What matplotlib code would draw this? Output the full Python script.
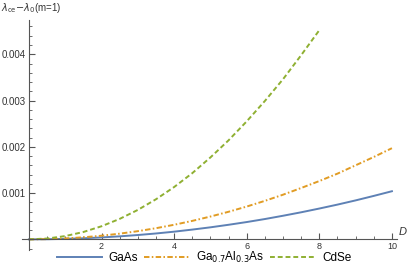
import matplotlib.pyplot as plt
from matplotlib.ticker import MultipleLocator, FixedLocator

plt.rcParams['font.family'] = ['Liberation Sans', 'DejaVu Sans']

# values
D = [0, 0.5, 1, 1.5, 2, 2.5, 3, 3.5, 4, 4.5, 5, 5.5, 6, 6.5, 7, 7.5, 8,
     8.5, 9, 9.5, 10]
gaas = [0, 0.0000026, 0.0000104, 0.0000234, 0.0000416, 0.000065, 0.0000936,
        0.000127, 0.000166, 0.000211, 0.00026, 0.000315, 0.000374, 0.000439,
        0.00051, 0.000585, 0.000666, 0.000751, 0.000842, 0.000939, 0.00104]
gaal = [0, 0.0000049, 0.0000197, 0.0000443, 0.0000788, 0.000123, 0.000177,
        0.000241, 0.000315, 0.000399, 0.000493, 0.000596, 0.000709, 0.000832,
        0.000965, 0.00111, 0.00126, 0.00142, 0.0016, 0.00178, 0.00197]
D_cdse = D[:17]
cdse = [0, 0.0000177, 0.0000707, 0.000159, 0.000283, 0.000442, 0.000636,
        0.000866, 0.00113, 0.00143, 0.00177, 0.00214, 0.00255, 0.00299,
        0.00346, 0.00398, 0.00452]

labels = ['GaAs', r'Ga$_{0.7}$Al$_{0.3}$As', 'CdSe']
colors = ['#5E81B5', '#E19C24', '#8FB032']

fig = plt.figure(figsize=(4.15, 2.64), dpi=100)
ax = fig.add_axes([22 / 415, 14 / 264, 375 / 415, 230 / 264])

l1, = ax.plot(D, gaas, color=colors[0], lw=1.4)
l2, = ax.plot(D, gaal, color=colors[1], lw=1.4, dashes=(2.8, 1.2, 0.8, 1.2))
l3, = ax.plot(D_cdse, cdse, color=colors[2], lw=1.4, dashes=(2.5, 1.5))

ax.set_xlim(-0.19, 10.14)
ax.set_ylim(-0.00023, 0.00474)

axcol = '#555555'
for s in ['top', 'right']:
    ax.spines[s].set_visible(False)
ax.spines['left'].set_position(('data', 0))
ax.spines['bottom'].set_position(('data', 0))
for s in ['left', 'bottom']:
    ax.spines[s].set_color(axcol)
    ax.spines[s].set_linewidth(0.8)

ax.xaxis.set_major_locator(FixedLocator([2, 4, 6, 8, 10]))
ax.xaxis.set_minor_locator(MultipleLocator(0.5))
ax.yaxis.set_major_locator(FixedLocator([0.001, 0.002, 0.003, 0.004]))
ax.yaxis.set_minor_locator(MultipleLocator(0.0002))
ax.set_yticklabels(['0.001', '0.002', '0.003', '0.004'])
ax.set_xticklabels(['2', '4', '6', '8', '10'])
ax.tick_params(which='both', direction='in', color=axcol, labelsize=7,
               labelcolor='#333333')
ax.tick_params(which='major', length=4, width=0.8)
ax.tick_params(which='minor', length=2.2, width=0.6)
ax.tick_params(axis='x', pad=2, labelsize=6.5)
ax.tick_params(axis='y', pad=2)

fig.text(403 / 415, 1 - 232 / 264, 'D', style='italic', fontsize=8,
         color='#333333', ha='center', va='center')
fig.text(1 / 415, 1 - 8 / 264, r'$\lambda_{\mathrm{ce}}$$-$$\lambda_0$(m=1)',
         fontsize=7, color='#333333', ha='left', va='center')

fig.legend([l1, l2, l3], labels, loc='center', bbox_to_anchor=(204 / 415, 1 - 257.5 / 264),
           ncol=3, frameon=False, fontsize=8.5, handlelength=3.8,
           columnspacing=0.5, handletextpad=0.6, borderaxespad=0,
           borderpad=0)

fig.savefig('out.png', dpi=100)
